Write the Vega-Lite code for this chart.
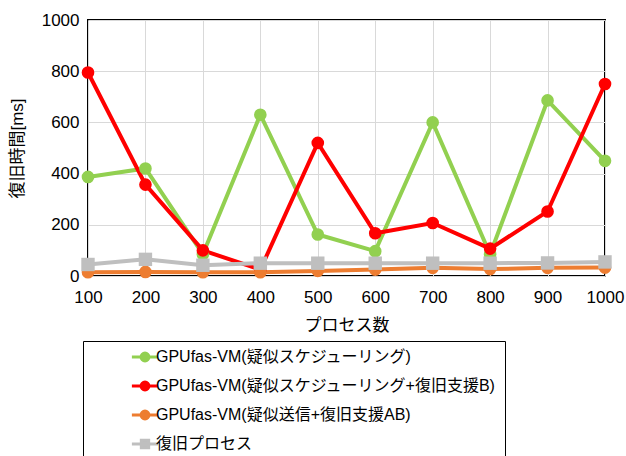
{
  "$schema": "https://vega.github.io/schema/vega-lite/v6.json",
  "width": 517,
  "height": 256,
  "autosize": "none",
  "padding": {"left": 88, "top": 20, "right": 21, "bottom": 180},
  "background": "white",
  "config": {
    "font": "Liberation Sans",
    "view": {"stroke": "black", "strokeWidth": 2}
  },
  "data": {
    "values": [
      {"series": "GPUfas-VM(疑似スケジューリング)", "x": 100, "y": 387},
      {"series": "GPUfas-VM(疑似スケジューリング)", "x": 200, "y": 420},
      {"series": "GPUfas-VM(疑似スケジューリング)", "x": 300, "y": 85},
      {"series": "GPUfas-VM(疑似スケジューリング)", "x": 400, "y": 630},
      {"series": "GPUfas-VM(疑似スケジューリング)", "x": 500, "y": 162},
      {"series": "GPUfas-VM(疑似スケジューリング)", "x": 600, "y": 97},
      {"series": "GPUfas-VM(疑似スケジューリング)", "x": 700, "y": 600},
      {"series": "GPUfas-VM(疑似スケジューリング)", "x": 800, "y": 85},
      {"series": "GPUfas-VM(疑似スケジューリング)", "x": 900, "y": 686},
      {"series": "GPUfas-VM(疑似スケジューリング)", "x": 1000, "y": 450},
      {"series": "GPUfas-VM(疑似スケジューリング+復旧支援B)", "x": 100, "y": 795},
      {"series": "GPUfas-VM(疑似スケジューリング+復旧支援B)", "x": 200, "y": 357},
      {"series": "GPUfas-VM(疑似スケジューリング+復旧支援B)", "x": 300, "y": 100},
      {"series": "GPUfas-VM(疑似スケジューリング+復旧支援B)", "x": 400, "y": 25},
      {"series": "GPUfas-VM(疑似スケジューリング+復旧支援B)", "x": 500, "y": 520},
      {"series": "GPUfas-VM(疑似スケジューリング+復旧支援B)", "x": 600, "y": 167},
      {"series": "GPUfas-VM(疑似スケジューリング+復旧支援B)", "x": 700, "y": 207},
      {"series": "GPUfas-VM(疑似スケジューリング+復旧支援B)", "x": 800, "y": 107},
      {"series": "GPUfas-VM(疑似スケジューリング+復旧支援B)", "x": 900, "y": 252},
      {"series": "GPUfas-VM(疑似スケジューリング+復旧支援B)", "x": 1000, "y": 750},
      {"series": "GPUfas-VM(疑似送信+復旧支援AB)", "x": 100, "y": 15},
      {"series": "GPUfas-VM(疑似送信+復旧支援AB)", "x": 200, "y": 16},
      {"series": "GPUfas-VM(疑似送信+復旧支援AB)", "x": 300, "y": 15},
      {"series": "GPUfas-VM(疑似送信+復旧支援AB)", "x": 400, "y": 15},
      {"series": "GPUfas-VM(疑似送信+復旧支援AB)", "x": 500, "y": 20},
      {"series": "GPUfas-VM(疑似送信+復旧支援AB)", "x": 600, "y": 25},
      {"series": "GPUfas-VM(疑似送信+復旧支援AB)", "x": 700, "y": 32},
      {"series": "GPUfas-VM(疑似送信+復旧支援AB)", "x": 800, "y": 27},
      {"series": "GPUfas-VM(疑似送信+復旧支援AB)", "x": 900, "y": 32},
      {"series": "GPUfas-VM(疑似送信+復旧支援AB)", "x": 1000, "y": 33},
      {"series": "復旧プロセス", "x": 100, "y": 45},
      {"series": "復旧プロセス", "x": 200, "y": 65},
      {"series": "復旧プロセス", "x": 300, "y": 42},
      {"series": "復旧プロセス", "x": 400, "y": 50},
      {"series": "復旧プロセス", "x": 500, "y": 50},
      {"series": "復旧プロセス", "x": 600, "y": 50},
      {"series": "復旧プロセス", "x": 700, "y": 50},
      {"series": "復旧プロセス", "x": 800, "y": 50},
      {"series": "復旧プロセス", "x": 900, "y": 51},
      {"series": "復旧プロセス", "x": 1000, "y": 55}
    ]
  },
  "encoding": {
    "x": {
      "field": "x", "type": "quantitative",
      "scale": {"domain": [100, 1000], "nice": false, "zero": false},
      "axis": {
        "title": "プロセス数", "titleFont": "Noto Sans CJK JP", "titleFontSize": 17, "titleFontWeight": "normal", "titleColor": "black", "titlePadding": 12,
        "values": [100, 200, 300, 400, 500, 600, 700, 800, 900, 1000], "format": "d",
        "labelFont": "Liberation Sans", "labelFontSize": 17, "labelColor": "black", "labelPadding": 13,
        "labelFlush": false, "labelOverlap": false, "labelBound": false,
        "tickSize": 0, "domain": false,
        "grid": true, "gridColor": "#D9D9D9", "gridWidth": 1
      }
    },
    "y": {
      "field": "y", "type": "quantitative",
      "scale": {"domain": [0, 1000], "nice": false},
      "axis": {
        "title": "復旧時間[ms]", "titleFont": "'Liberation Sans', 'Noto Sans CJK JP'", "titleFontSize": 17, "titleFontWeight": "normal", "titleColor": "black", "titlePadding": 15,
        "values": [0, 200, 400, 600, 800, 1000], "format": "d",
        "labelFont": "Liberation Sans", "labelFontSize": 17, "labelColor": "black", "labelPadding": 9,
        "labelFlush": false, "labelOverlap": false,
        "tickSize": 0, "domain": false,
        "grid": true, "gridColor": "#D9D9D9", "gridWidth": 1
      }
    },
    "color": {
      "field": "series", "type": "nominal",
      "scale": {
        "domain": ["GPUfas-VM(疑似スケジューリング)", "GPUfas-VM(疑似スケジューリング+復旧支援B)", "GPUfas-VM(疑似送信+復旧支援AB)", "復旧プロセス"],
        "range": ["#92D050", "#FF0000", "#ED7D31", "#BFBFBF"]
      },
      "legend": {
        "orient": "none", "legendX": -5, "legendY": 321,
        "title": null, "direction": "vertical",
        "fillColor": "white", "strokeColor": "black", "padding": 8,
        "labelFont": "'Liberation Sans', 'Noto Sans CJK JP'", "labelFontSize": 16, "labelColor": "black",
        "symbolSize": 110, "symbolStrokeWidth": 3, "symbolOffset": 46,
        "rowPadding": 9, "labelOffset": 3, "labelLimit": 500,
        "symbolType": "M-2.5,0H2.5M-0.75,0A0.75,0.75 0 1,1 0.75,0A0.75,0.75 0 1,1 -0.75,0Z",
        "encode": {
          "symbols": {
            "update": {
              "fill": {"scale": "color", "field": "value"},
              "stroke": {"scale": "color", "field": "value"},
              "strokeWidth": {"value": 3},
              "opacity": {"value": 1},
              "shape": {"signal": "datum.value === '復旧プロセス' ? 'M-2.5,0H2.5M-0.7,-0.7H0.7V0.7H-0.7Z' : 'M-2.5,0H2.5M-0.75,0A0.75,0.75 0 1,1 0.75,0A0.75,0.75 0 1,1 -0.75,0Z'"}
            }
          }
        }
      }
    }
  },
  "layer": [
    {
      "mark": {"type": "line", "strokeWidth": 4}
    },
    {
      "transform": [{"filter": "datum.series !== '復旧プロセス'"}],
      "mark": {"type": "point", "shape": "circle", "filled": true, "opacity": 1, "size": 160}
    },
    {
      "transform": [{"filter": "datum.series === '復旧プロセス'"}],
      "mark": {"type": "point", "shape": "square", "filled": true, "opacity": 1, "size": 180}
    }
  ]
}
